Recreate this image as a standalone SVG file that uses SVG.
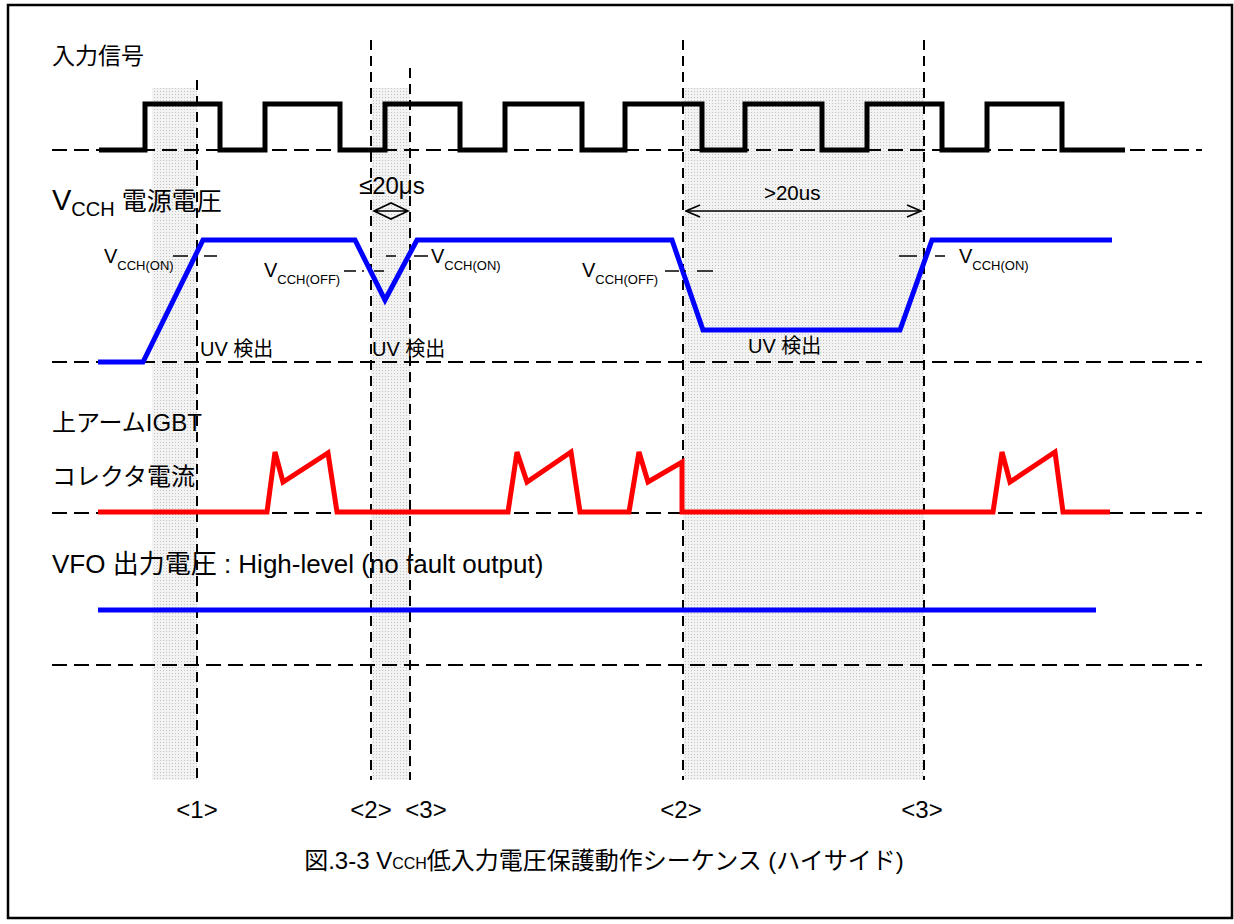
<svg xmlns="http://www.w3.org/2000/svg" width="1234" height="924" viewBox="0 0 1234 924">
<style>
text{font-family:"Liberation Sans","Noto Sans CJK JP",sans-serif;fill:#000}
.lbl{font-size:24px}
.sm{font-size:20px}
.uv{font-size:20px}
.sub{font-size:13px}
.num{font-size:24px}
.dash{stroke:#000;stroke-width:2;stroke-dasharray:15,7;fill:none}
.vdash{stroke:#000;stroke-width:2;stroke-dasharray:10,6;fill:none}
.wave{fill:none;stroke-width:5;stroke-linejoin:miter}
.thr{stroke:#000;stroke-width:1.5;fill:none}
</style>
<defs>
<pattern id="dots" width="3" height="3" patternUnits="userSpaceOnUse">
<rect width="3" height="3" fill="#f3f3f3"/>
<rect x="1" y="1" width="1" height="1" fill="#c2c2c2"/>
</pattern>
<marker id="arr" viewBox="0 0 16 16" refX="15" refY="8" markerWidth="16" markerHeight="16" markerUnits="userSpaceOnUse" orient="auto-start-reverse">
<path d="M1,2 L15,8 L1,14" fill="none" stroke="#000" stroke-width="1.6"/>
</marker>
</defs>
<rect x="0" y="0" width="1234" height="924" fill="#fff"/>
<rect x="8" y="5" width="1224" height="913" fill="none" stroke="#000" stroke-width="2.5"/>

<g id="shading">
<rect x="152" y="88" width="45" height="692" fill="url(#dots)"/>
<rect x="371" y="88" width="39" height="692" fill="url(#dots)"/>
<rect x="683" y="88" width="241" height="692" fill="url(#dots)"/>
</g>

<g id="grid">
<line class="dash" x1="52" y1="150" x2="1202" y2="150"/>
<line class="dash" x1="52" y1="362" x2="1202" y2="362"/>
<line class="dash" x1="52" y1="513" x2="1202" y2="513"/>
<line class="dash" x1="52" y1="665" x2="1202" y2="665"/>
<line class="vdash" x1="197" y1="80" x2="197" y2="780"/>
<line class="vdash" x1="371" y1="40" x2="371" y2="780"/>
<line class="vdash" x1="410" y1="68" x2="410" y2="780"/>
<line class="vdash" x1="683" y1="40" x2="683" y2="780"/>
<line class="vdash" x1="924" y1="40" x2="924" y2="780"/>
</g>

<g id="labels">
<text x="52" y="64" font-size="23">入力信号</text>
<text x="52" y="210" font-size="29">V<tspan font-size="20" dy="6">CCH</tspan><tspan font-size="25" dy="-6"> 電源電圧</tspan></text>
<text class="lbl" x="52" y="431">上アームIGBT</text>
<text class="lbl" x="52" y="485">コレクタ電流</text>
<text x="52" y="573" font-size="26">VFO 出力電圧 : High-level (no fault output)</text>
</g>

<g id="input-signal">
<path class="wave" stroke="#000" d="M99,150 H145 V104 H220 V150 H265 V104 H340 V150 H385 V104 H460 V150 H505 V104 H582 V150 H625 V104 H702 V150 H745 V104 H822 V150 H867 V104 H942 V150 H987 V104 H1062 V150 H1125"/>
</g>

<g id="vcch">
<path class="wave" stroke="#0000ff" d="M98,362 L143,362 L203,240 L355,240 L385,300 L417,240 L672,240 L703,330 L900,330 L932,240 L1112,240"/>
<line class="thr" x1="173" y1="256" x2="188" y2="256"/>
<line class="thr" x1="204" y1="256" x2="217" y2="256"/>
<line class="thr" x1="344" y1="271" x2="356" y2="271"/>
<line class="thr" x1="362" y1="271" x2="364" y2="271"/>
<line class="thr" x1="374" y1="271" x2="384" y2="271"/>
<line class="thr" x1="386" y1="256" x2="396" y2="256"/>
<line class="thr" x1="414" y1="256" x2="428" y2="256"/>
<line class="thr" x1="665" y1="271" x2="679" y2="271"/>
<line class="thr" x1="684" y1="271" x2="686" y2="271"/>
<line class="thr" x1="697" y1="271" x2="713" y2="271"/>
<line class="thr" x1="899" y1="256" x2="917" y2="256"/>
<line class="thr" x1="935" y1="256" x2="945" y2="256"/>
<text class="sm" x="104" y="263">V<tspan class="sub" dy="7">CCH(ON)</tspan></text>
<text class="sm" x="264" y="277">V<tspan class="sub" dy="7">CCH(OFF)</tspan></text>
<text class="sm" x="431" y="263">V<tspan class="sub" dy="7">CCH(ON)</tspan></text>
<text class="sm" x="582" y="277">V<tspan class="sub" dy="7">CCH(OFF)</tspan></text>
<text class="sm" x="959" y="263">V<tspan class="sub" dy="7">CCH(ON)</tspan></text>
<text class="uv" x="200" y="356">UV 検出</text>
<text class="uv" x="372" y="356">UV 検出</text>
<text class="uv" x="748" y="353">UV 検出</text>
</g>

<g id="timing">
<text x="359" y="194" font-size="24">≤20μs</text>
<path d="M374,211 L391,203 L408,211 L391,219 Z M374,211 H408" fill="none" stroke="#000" stroke-width="1.6"/>
<line x1="686" y1="211" x2="921" y2="211" stroke="#000" stroke-width="1.6" marker-start="url(#arr)" marker-end="url(#arr)"/>
<text x="764" y="200" font-size="20.5">&gt;20us</text>
</g>

<g id="collector-current">
<path class="wave" stroke="#ff0000" d="M98,512 L267,512 L275,452 L283,482 L328,453 L337,512 L508,512 L517,452 L527,482 L571,452 L580,512 L629,512 L639,452 L648,482 L682,462 L682,512 L993,512 L1002,452 L1010,482 L1055,452 L1063,512 L1110,512"/>
</g>

<g id="vfo">
<line x1="98" y1="610" x2="1096" y2="610" stroke="#0000ff" stroke-width="5"/>
</g>

<g id="markers">
<text class="num" x="197" y="818" text-anchor="middle">&lt;1&gt;</text>
<text class="num" x="371" y="818" text-anchor="middle">&lt;2&gt;</text>
<text class="num" x="426" y="818" text-anchor="middle">&lt;3&gt;</text>
<text class="num" x="681" y="818" text-anchor="middle">&lt;2&gt;</text>
<text class="num" x="922" y="818" text-anchor="middle">&lt;3&gt;</text>
</g>

<g id="caption">
<text x="604" y="869" font-size="24" text-anchor="middle">図.3-3 V<tspan font-size="16">CCH</tspan>低入力電圧保護動作シーケンス (ハイサイド)</text>
</g>
</svg>
